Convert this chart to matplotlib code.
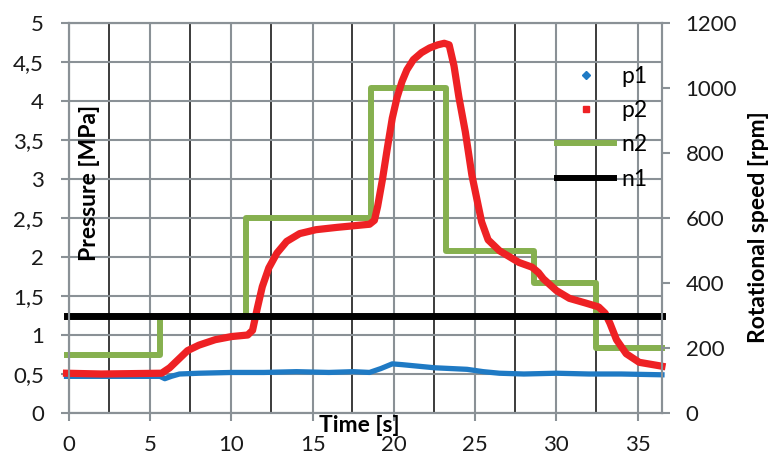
import matplotlib
matplotlib.use("Agg")
import matplotlib.pyplot as plt
from matplotlib.lines import Line2D
from matplotlib.ticker import FuncFormatter

# pressure traces [MPa]
t_p1 = [-0.15, 2, 4, 5.6, 5.9, 6.3, 6.8, 8, 10, 12, 14, 16, 17.5, 18.5, 19.2, 19.9,
        20.5, 21.5, 22.5, 23.5, 24.5, 25.5, 26.5, 28, 30, 32, 34, 36.5]
p1 = [0.47, 0.47, 0.47, 0.47, 0.44, 0.47, 0.50, 0.51, 0.52, 0.52, 0.53, 0.52, 0.53, 0.52,
      0.57, 0.63, 0.62, 0.60, 0.58, 0.57, 0.56, 0.53, 0.51, 0.50, 0.51, 0.50, 0.50, 0.49]

t_p2 = [-0.15, 2, 5.7, 6.2, 6.8, 7.3, 8.0, 9.0, 10.0, 11.0, 11.3, 11.6, 11.9, 12.3, 12.8,
        13.4, 14.2, 15.2, 16.5, 17.5, 18.5, 18.8, 19.0, 19.3, 19.6, 19.9, 20.2, 20.5,
        20.8, 21.2, 21.7, 22.2, 22.7, 23.1, 23.4, 23.7, 24.0, 24.4, 24.8, 25.1, 25.4,
        25.8, 26.5, 27.7, 28.5, 28.9, 29.2, 30.0, 30.8, 31.8, 32.6, 33.0, 33.3, 33.7,
        34.3, 35.1, 36.5]
p2 = [0.51, 0.50, 0.51, 0.58, 0.70, 0.80, 0.87, 0.94, 0.98, 1.00, 1.06, 1.35, 1.62, 1.86,
      2.05, 2.20, 2.30, 2.35, 2.38, 2.40, 2.42, 2.47, 2.65, 3.00, 3.40, 3.78, 4.05, 4.25,
      4.40, 4.53, 4.62, 4.68, 4.72, 4.74, 4.72, 4.45, 4.05, 3.60, 3.05, 2.75, 2.45,
      2.22, 2.08, 1.93, 1.87, 1.80, 1.72, 1.57, 1.47, 1.41, 1.36, 1.28, 1.15, 0.94,
      0.76, 0.65, 0.60]

# rotational speed [rpm]
t_n2 = [-0.15, 5.6, 10.9, 18.6, 23.2, 28.65, 32.45, 36.5]
n2 = [180, 300, 600, 1000, 500, 400, 200, 200]
t_n1 = [-0.15, 36.5]
n1 = [300, 300]

x_ticks = [0, 5, 10, 15, 20, 25, 30, 35]
x_dark_grid = [2.45, 7.45, 12.45, 17.45, 22.45, 27.45, 32.45]
p_ticks = [0, 0.5, 1, 1.5, 2, 2.5, 3, 3.5, 4, 4.5, 5]
n_ticks = [0, 200, 400, 600, 800, 1000, 1200]

plt.rcParams['font.family'] = ['Lato', 'DejaVu Sans']
GRAY = '#8a9196'
BLUE = '#1f7ac4'
RED = '#ee2124'
GREEN = '#86b04f'

fig = plt.figure(figsize=(7.69, 4.59), dpi=100)
ax = fig.add_axes([0.0897, 0.1002, 0.7711, 0.8497])
ax2 = ax.twinx()

ax.set_xlim(0, 36.5)
ax.set_ylim(0, 5)
ax2.set_ylim(0, 1200)

ax.set_xticks(x_ticks)
ax.set_xticks(x_dark_grid, minor=True)
ax.set_yticks(p_ticks)
ax2.set_yticks(n_ticks)
comma = FuncFormatter(lambda v, pos: f'{v:g}'.replace('.', ','))
ax.yaxis.set_major_formatter(comma)

ax.grid(True, which='major', color=GRAY, lw=1.5)
ax.grid(True, which='minor', axis='x', color='#1a1a1a', lw=1.2)
ax.set_axisbelow(True)
ax.tick_params(which='minor', length=0)
ax.tick_params(axis='both', which='major', direction='out', length=6, width=1.5,
               color=GRAY, labelsize=16, labelcolor='#1a1a1a')
ax.tick_params(axis='y', pad=12)
ax.tick_params(axis='x', pad=10)
ax2.tick_params(axis='y', direction='out', length=6, width=1.5, color=GRAY,
                labelsize=16, labelcolor='#1a1a1a', pad=11)
for a in (ax, ax2):
    for s in a.spines.values():
        s.set_color(GRAY)
        s.set_linewidth(1.5)

# all series on ax so the drawing order matches; rpm ones use the right scale
ax.plot(t_p1, p1, color=BLUE, lw=3.8, zorder=3, clip_on=False)
ax.plot(t_n2, n2, color=GREEN, lw=4.3, drawstyle='steps-post', zorder=4,
        transform=ax2.transData, clip_on=False)
ax.plot(t_p2, p2, color=RED, lw=5.2, zorder=5, clip_on=False, solid_joinstyle='round')
ax.plot(t_n1, n1, color='black', lw=5, zorder=6, transform=ax2.transData, clip_on=False)

ax.text(0.034, 0.59, 'Pressure [MPa]', transform=ax.transAxes, rotation=90,
        ha='center', va='center', fontsize=16.5, fontweight='bold')
ax.text(0.489, -0.033, 'Time [s]', transform=ax.transAxes,
        ha='center', va='center', fontsize=16.5, fontweight='bold')
ax.text(1.162, 0.477, 'Rotational speed [rpm]', transform=ax.transAxes, rotation=90,
        ha='center', va='center', fontsize=16.5, fontweight='bold')

handles = [
    Line2D([], [], ls='none', marker='D', ms=4, color=BLUE),
    Line2D([], [], ls='none', marker='s', ms=4, color=RED),
    Line2D([], [], color=GREEN, lw=4.3),
    Line2D([], [], color='black', lw=4.3),
]
leg = ax2.legend(handles, ['p1', 'p2', 'n2', 'n1'], loc='upper left',
                 bbox_to_anchor=(0.823, 0.89), frameon=False, fontsize=16.5,
                 handlelength=2.5, handletextpad=0.3, labelspacing=0.58,
                 borderpad=0, borderaxespad=0)

fig.savefig('out.png', dpi=100)
